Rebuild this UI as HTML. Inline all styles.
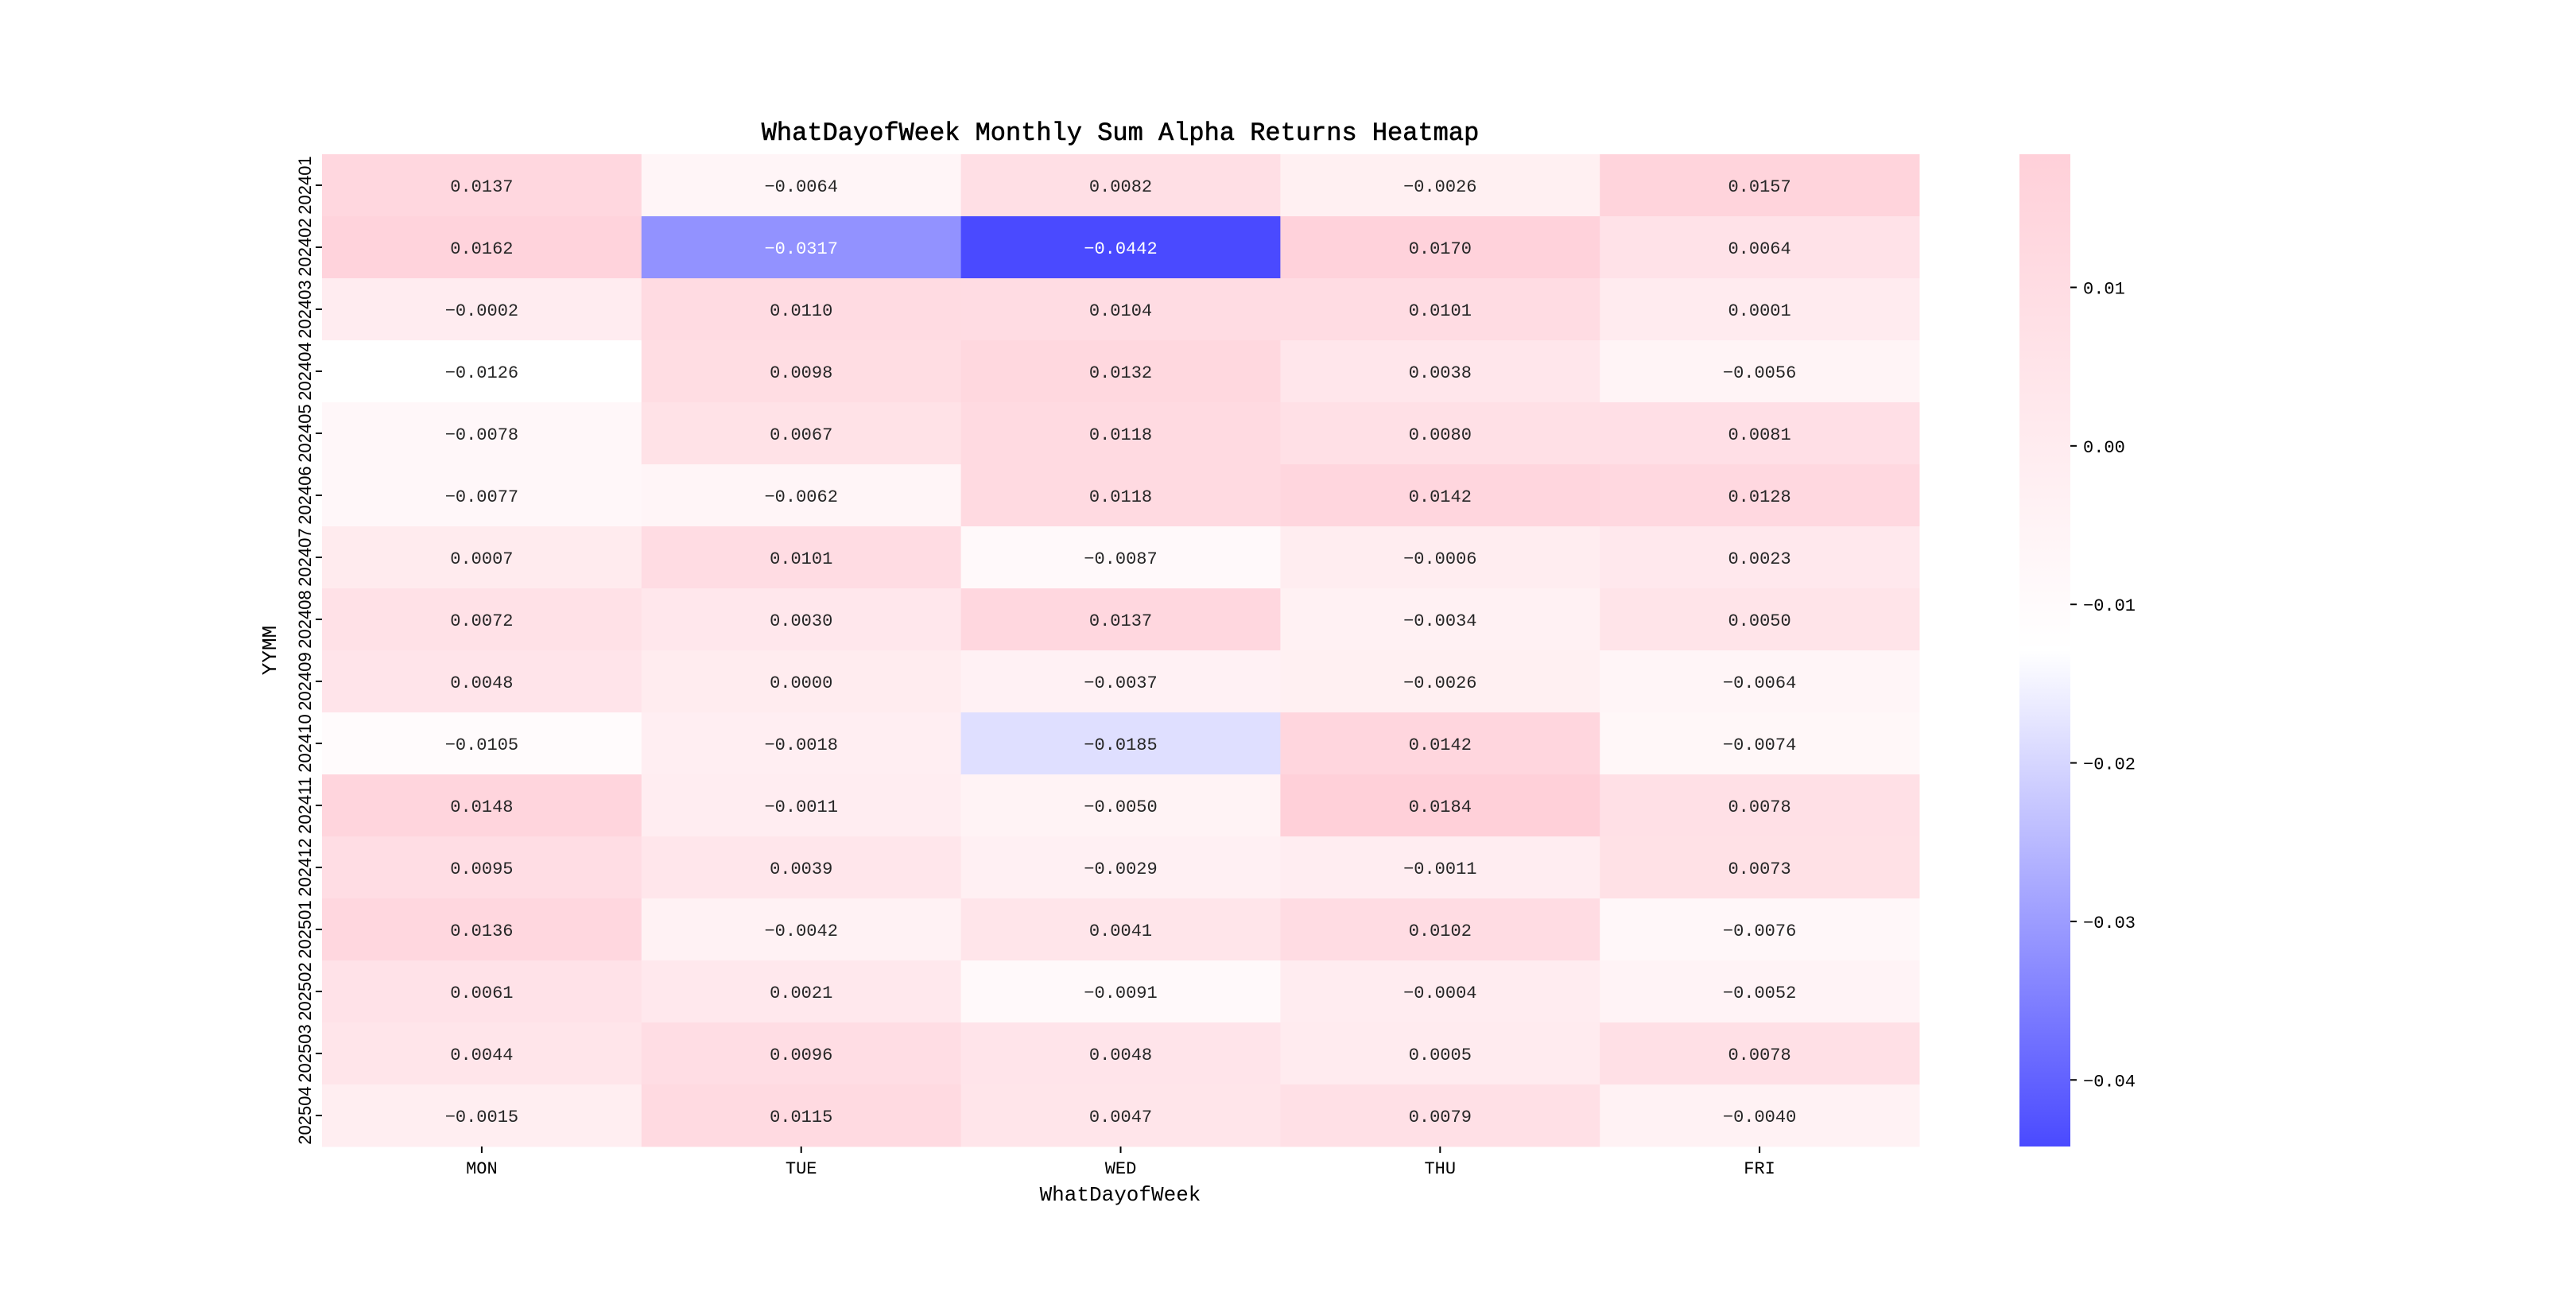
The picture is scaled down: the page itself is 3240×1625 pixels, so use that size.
<!DOCTYPE html>
<html><head><meta charset="utf-8"><style>
html,body{margin:0;padding:0;background:#fff;}
svg text{font-family:"Liberation Mono","WenQuanYi Zen Hei",monospace;}
svg text.sans{font-family:"Liberation Sans","WenQuanYi Zen Hei",sans-serif;}
</style></head><body>
<svg id="chart" width="3240" height="1620" viewBox="0 0 3240 1620" xmlns="http://www.w3.org/2000/svg">
<defs>
<linearGradient id="cbgrad" x1="0" y1="1" x2="0" y2="0">
<stop offset="0" stop-color="#4a4aff"/>
<stop offset="0.5" stop-color="#ffffff"/>
<stop offset="1" stop-color="#ffd0d9"/>
</linearGradient>
</defs>
<rect width="3240" height="1620" fill="#fff"/>
<text x="1409" y="176" font-size="32" text-anchor="middle" fill="#000" stroke="#000" stroke-width="0.6">WhatDayofWeek Monthly Sum Alpha Returns Heatmap</text>
<g id="cells"></g>
<g id="xaxis"></g>
<g id="yaxis"></g>
<text x="1409" y="1510" font-size="26" text-anchor="middle" fill="#000">WhatDayofWeek</text>
<text transform="translate(347,818) rotate(-90)" font-size="26" text-anchor="middle" fill="#000">YYMM</text>
<rect x="2540" y="194" width="64" height="1248" fill="url(#cbgrad)"/>
<g id="cbticks"></g>
</svg>
<script>
const days = ["MON","TUE","WED","THU","FRI"];
const months = ["202401","202402","202403","202404","202405","202406","202407","202408","202409","202410","202411","202412","202501","202502","202503","202504"];
const mon = [0.0137,0.0162,-0.0002,-0.0126,-0.0078,-0.0077,0.0007,0.0072,0.0048,-0.0105,0.0148,0.0095,0.0136,0.0061,0.0044,-0.0015];
const tue = [-0.0064,-0.0317,0.0110,0.0098,0.0067,-0.0062,0.0101,0.0030,0.0000,-0.0018,-0.0011,0.0039,-0.0042,0.0021,0.0096,0.0115];
const wed = [0.0082,-0.0442,0.0104,0.0132,0.0118,0.0118,-0.0087,0.0137,-0.0037,-0.0185,-0.0050,-0.0029,0.0041,-0.0091,0.0048,0.0047];
const thu = [-0.0026,0.0170,0.0101,0.0038,0.0080,0.0142,-0.0006,-0.0034,-0.0026,0.0142,0.0184,-0.0011,0.0102,-0.0004,0.0005,0.0079];
const fri = [0.0157,0.0064,0.0001,-0.0056,0.0081,0.0128,0.0023,0.0050,-0.0064,-0.0074,0.0078,0.0073,-0.0076,-0.0052,0.0078,-0.0040];
const cbTicks = [0.01,0.00,-0.01,-0.02,-0.03,-0.04];
const cbLabels = ["0.01","0.00","\u22120.01","\u22120.02","\u22120.03","\u22120.04"];

const series = [mon,tue,wed,thu,fri];
const NS = "http://www.w3.org/2000/svg";
const X0 = 405, X1 = 2414, Y0 = 194, Y1 = 1442;
const cw = (X1 - X0) / days.length, rh = (Y1 - Y0) / months.length;
const all = series.flat();
const vmin = Math.min(...all), vmax = Math.max(...all);
const xPos = i => X0 + i * cw;
const yPos = j => Y0 + j * rh;
const cbY = v => Y1 - (v - vmin) / (vmax - vmin) * (Y1 - Y0);
function color(v){
  const t = (v - vmin) / (vmax - vmin);
  let a, b, u;
  if (t < 0.5){ a=[0x4a,0x4a,0xff]; b=[255,255,255]; u=t/0.5; }
  else { a=[255,255,255]; b=[0xff,0xd0,0xd9]; u=(t-0.5)/0.5; }
  const c = a.map((x,k)=>Math.round(x+(b[k]-x)*u));
  return {fill:`rgb(${c[0]},${c[1]},${c[2]})`, lum:(0.299*c[0]+0.587*c[1]+0.114*c[2])};
}
function mk(tag, attrs, parent){
  const e = document.createElementNS(NS, tag);
  for (const k in attrs) e.setAttribute(k, attrs[k]);
  parent.appendChild(e); return e;
}
const cells = document.getElementById('cells');
series.forEach((s, i) => {
  s.forEach((v, j) => {
    const c = color(v);
    const r = mk('rect', {x:xPos(i), y:yPos(j), width:cw+0.5, height:rh+0.5, fill:c.fill}, cells);
    
    
    const t = mk('text', {x:xPos(i)+cw/2, y:yPos(j)+rh/2+8, 'font-size':22, 'text-anchor':'middle', fill: c.lum < 185 ? '#fff' : '#262626'}, cells);
    t.textContent = v.toFixed(4).replace('-', '\u2212');
    
    
  });
});
const xa = document.getElementById('xaxis');
days.forEach((d, i) => {
  const cx = xPos(i) + cw/2;
  const l = mk('line', {x1:cx, x2:cx, y1:Y1, y2:Y1+8, stroke:'#000', 'stroke-width':2}, xa);
  
  
  const t = mk('text', {x:cx, y:Y1+34, 'font-size':22, 'text-anchor':'middle', fill:'#000'}, xa);
  t.textContent = d;
  
  
});
const ya = document.getElementById('yaxis');
months.forEach((m, j) => {
  const cy = yPos(j) + rh/2;
  const l = mk('line', {x1:X0-8, x2:X0, y1:cy, y2:cy, stroke:'#000', 'stroke-width':2}, ya);
  
  
  const t = mk('text', {transform:`translate(${X0-14},${cy}) rotate(-90)`, 'font-size':22, 'text-anchor':'middle', fill:'#000', class:'sans'}, ya);
  t.textContent = m;
  
  
});
const cb = document.getElementById('cbticks');
cbTicks.forEach((v, k) => {
  const y = cbY(v);
  const l = mk('line', {x1:2604, x2:2612, y1:y, y2:y, stroke:'#000', 'stroke-width':2}, cb);
  
  
  const t = mk('text', {x:2620, y:y+8, 'font-size':22, fill:'#000'}, cb);
  t.textContent = cbLabels[k];
  
  
});
</script>
</body></html>
